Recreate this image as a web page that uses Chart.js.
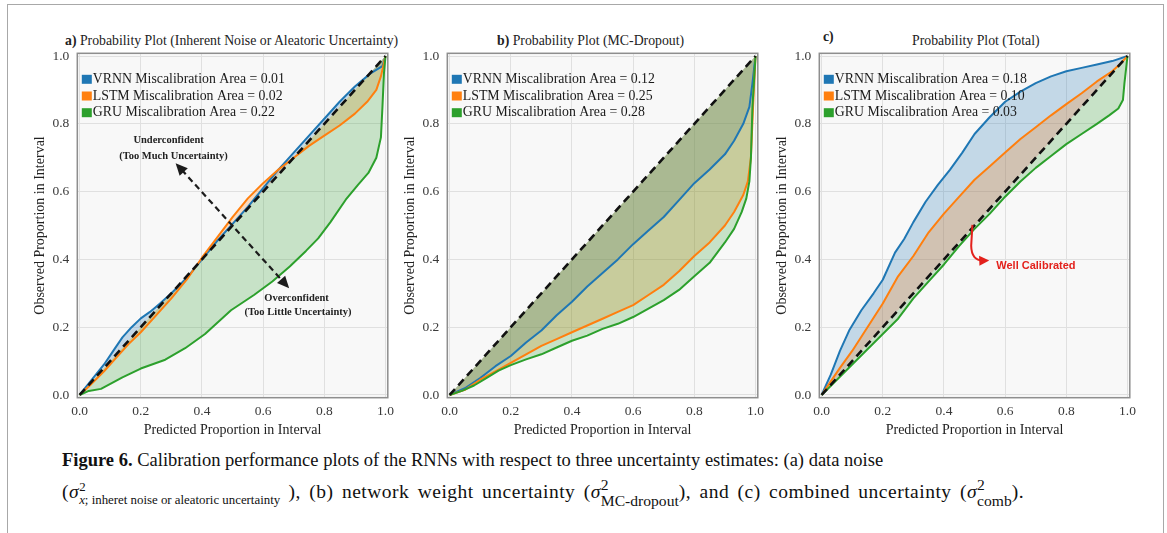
<!DOCTYPE html>
<html>
<head>
<meta charset="UTF-8" />
<title>Calibration performance plots</title>
<script src="https://cdn.jsdelivr.net/npm/chart.js"></script>
<style>
  body { margin: 0; background: #fff; width: 1167px; height: 533px; overflow: hidden; position: relative;
         font-family: 'Liberation Serif', 'DejaVu Serif', serif; color: #111; }
  #frame { position: absolute; left: 7px; top: 4px; width: 1155px; height: 560px; border: 1.5px solid #a8a8a8; border-bottom: none; }
  .panel { position: absolute; top: 0; width: 400px; height: 440px; }
  .ptitle { position: absolute; white-space: nowrap; font-size: 14.5px; line-height: 18px; color: #222;
            transform: scaleX(0.95); transform-origin: 0 0; }
  .caption { position: absolute; left: 62px; white-space: nowrap; font-size: 18.5px; line-height: 22px; color: #111; }
  .wide { font-size: 19.5px; letter-spacing: 0.5px; word-spacing: 3px; }
  .ss { display: inline-block; vertical-align: -0.5em; font-size: 0.8em; line-height: 1.0; letter-spacing: 0; word-spacing: 0; }
  .ss.small { font-size: 0.66em; }
  .ss span { display: block; }
</style>
</head>
<body>
<div id="frame"></div>

<div class="ptitle" style="left:65px; top:31px"><b>a)</b> Probability Plot (Inherent Noise or Aleatoric Uncertainty)</div>
<div class="ptitle" style="left:497px; top:31px"><b>b)</b> Probability Plot (MC-Dropout)</div>
<div class="ptitle" style="left:823px; top:27px"><b>c)</b></div>
<div class="ptitle" style="left:912px; top:31px">Probability Plot (Total)</div>

<div class="panel" style="left:0px"><canvas id="plotA"></canvas></div>
<div class="panel" style="left:370px"><canvas id="plotB"></canvas></div>
<div class="panel" style="left:742px"><canvas id="plotC"></canvas></div>

<div class="caption" style="top:449px"><b>Figure 6.</b> Calibration performance plots of the RNNs with respect to three uncertainty estimates: (a) data noise</div>
<div class="caption wide" style="top:477px">(<i>σ</i><span class="ss small"><span>2</span><span><i>x</i>; inheret noise or aleatoric uncertainty</span></span> ), (b) network weight uncertainty (<i>σ</i><span class="ss"><span>2</span><span>MC-dropout</span></span>), and (c) combined uncertainty (<i>σ</i><span class="ss"><span>2</span><span>comb</span></span>).</div>

<script>
  const modelNames = ['VRNN', 'LSTM', 'GRU'];
  const lineColors = ['#1f77b4', '#ff7f0e', '#2ca02c'];
  const fillColors = ['rgba(31,119,180,0.24)', 'rgba(255,127,14,0.24)', 'rgba(44,160,44,0.24)'];
  const tickValues = [0, 0.2, 0.4, 0.6, 0.8, 1.0];
  const idealX = [0, 1];
  const idealY = [0, 1];

  // a) inherent noise / aleatoric
  const aAreas = [0.01, 0.02, 0.22];
  const aVrnnX = [0, 0.04, 0.08, 0.11, 0.14, 0.17, 0.2, 0.23, 0.26, 0.3, 0.35, 0.4, 0.45, 0.5, 0.55, 0.6, 0.65, 0.7, 0.75, 0.8, 0.85, 0.9, 0.95, 0.975, 0.99, 1.0];
  const aVrnnY = [0, 0.045, 0.09, 0.13, 0.17, 0.2, 0.226, 0.245, 0.268, 0.3, 0.345, 0.4, 0.455, 0.505, 0.555, 0.61, 0.665, 0.715, 0.765, 0.815, 0.865, 0.91, 0.948, 0.962, 0.97, 1.0];
  const aLstmX = [0, 0.03, 0.08, 0.12, 0.16, 0.2, 0.25, 0.3, 0.35, 0.4, 0.45, 0.5, 0.55, 0.6, 0.65, 0.7, 0.75, 0.8, 0.85, 0.9, 0.94, 0.97, 0.985, 1.0];
  const aLstmY = [0, 0.025, 0.07, 0.11, 0.15, 0.185, 0.235, 0.285, 0.34, 0.405, 0.465, 0.525, 0.58, 0.625, 0.665, 0.7, 0.735, 0.765, 0.795, 0.83, 0.865, 0.9, 0.94, 1.0];
  const aGruX = [0, 0.03, 0.07, 0.14, 0.2, 0.28, 0.345, 0.41, 0.495, 0.57, 0.63, 0.687, 0.74, 0.78, 0.82, 0.87, 0.91, 0.944, 0.97, 0.985, 0.99, 0.995, 1.0];
  const aGruY = [0, 0.012, 0.018, 0.052, 0.078, 0.104, 0.138, 0.18, 0.25, 0.295, 0.335, 0.379, 0.425, 0.462, 0.51, 0.576, 0.62, 0.655, 0.7, 0.76, 0.85, 0.95, 1.0];

  // b) MC-dropout
  const bAreas = [0.12, 0.25, 0.28];
  const bVrnnX = [0, 0.05, 0.1, 0.15, 0.2, 0.25, 0.3, 0.35, 0.4, 0.45, 0.5, 0.55, 0.6, 0.65, 0.7, 0.75, 0.8, 0.85, 0.9, 0.93, 0.96, 0.98, 0.99, 1.0];
  const bVrnnY = [0, 0.02, 0.05, 0.085, 0.115, 0.155, 0.19, 0.235, 0.275, 0.32, 0.36, 0.4, 0.445, 0.485, 0.525, 0.575, 0.625, 0.665, 0.71, 0.75, 0.8, 0.85, 0.92, 1.0];
  const bLstmX = [0, 0.05, 0.1, 0.15, 0.2, 0.25, 0.3, 0.35, 0.4, 0.45, 0.5, 0.55, 0.6, 0.65, 0.7, 0.75, 0.8, 0.85, 0.9, 0.93, 0.96, 0.975, 0.985, 0.992, 1.0];
  const bLstmY = [0, 0.015, 0.045, 0.07, 0.095, 0.12, 0.145, 0.165, 0.185, 0.205, 0.225, 0.245, 0.265, 0.295, 0.325, 0.365, 0.41, 0.45, 0.5, 0.54, 0.59, 0.63, 0.7, 0.85, 1.0];
  const bGruX = [0, 0.04, 0.08, 0.12, 0.16, 0.2, 0.25, 0.3, 0.35, 0.4, 0.45, 0.5, 0.55, 0.6, 0.65, 0.7, 0.75, 0.8, 0.85, 0.9, 0.93, 0.955, 0.97, 0.98, 0.985, 0.99, 1.0];
  const bGruY = [0, 0.012, 0.028, 0.05, 0.072, 0.088, 0.105, 0.12, 0.14, 0.16, 0.175, 0.195, 0.21, 0.23, 0.255, 0.28, 0.31, 0.35, 0.39, 0.45, 0.49, 0.54, 0.58, 0.63, 0.7, 0.85, 1.0];

  // c) total
  const cAreas = [0.18, 0.10, 0.03];
  const cVrnnX = [0, 0.03, 0.06, 0.09, 0.13, 0.17, 0.2, 0.24, 0.27, 0.3, 0.34, 0.38, 0.42, 0.46, 0.5, 0.55, 0.6, 0.65, 0.7, 0.75, 0.8, 0.85, 0.9, 0.95, 1.0];
  const cVrnnY = [0, 0.06, 0.13, 0.19, 0.25, 0.3, 0.34, 0.42, 0.46, 0.51, 0.57, 0.62, 0.665, 0.715, 0.77, 0.82, 0.865, 0.895, 0.92, 0.94, 0.955, 0.965, 0.975, 0.985, 1.0];
  const cLstmX = [0, 0.03, 0.06, 0.1, 0.15, 0.2, 0.25, 0.3, 0.35, 0.4, 0.45, 0.5, 0.55, 0.6, 0.65, 0.7, 0.75, 0.8, 0.85, 0.9, 0.95, 0.98, 1.0];
  const cLstmY = [0, 0.04, 0.08, 0.13, 0.2, 0.27, 0.35, 0.41, 0.48, 0.535, 0.585, 0.635, 0.675, 0.715, 0.755, 0.79, 0.825, 0.858, 0.89, 0.925, 0.955, 0.98, 1.0];
  const cGruX = [0, 0.05, 0.1, 0.15, 0.2, 0.25, 0.3, 0.35, 0.4, 0.45, 0.5, 0.55, 0.6, 0.65, 0.7, 0.75, 0.8, 0.85, 0.9, 0.94, 0.97, 0.985, 0.99, 1.0];
  const cGruY = [0, 0.045, 0.09, 0.135, 0.18, 0.225, 0.285, 0.335, 0.385, 0.44, 0.49, 0.535, 0.585, 0.63, 0.67, 0.705, 0.74, 0.77, 0.8, 0.825, 0.845, 0.87, 0.92, 1.0];

  const serif = 'Liberation Serif';

  function pts(xs, ys) {
    return xs.map((x, i) => ({ x: x, y: ys[i] }));
  }

  // plot background and the box round it
  const plotFrame = {
    id: 'plotFrame',
    beforeDraw(chart) {
      const { ctx, chartArea: a } = chart;
      ctx.save();
      ctx.fillStyle = '#f8f8f8';
      ctx.fillRect(a.left, a.top, a.width, a.height);
      ctx.restore();
    },
    afterDraw(chart) {
      const { ctx, chartArea: a } = chart;
      ctx.save();
      ctx.strokeStyle = '#8e8e8e';
      ctx.lineWidth = 1.5;
      ctx.strokeRect(a.left, a.top, a.width, a.height);
      ctx.restore();
    }
  };

  // legend with the miscalibration areas, inside the plot
  const areaLegend = {
    id: 'areaLegend',
    afterDatasetsDraw(chart, args, opts) {
      const { ctx, chartArea: a } = chart;
      ctx.save();
      ctx.font = `13.8px "${serif}"`;
      ctx.textBaseline = 'middle';
      opts.areas.forEach((v, i) => {
        const y = a.top + 26 + i * 16.7;
        ctx.fillStyle = lineColors[i];
        ctx.fillRect(a.left + 4.5, y - 4.5, 10, 9);
        ctx.fillStyle = '#1a1a1a';
        ctx.fillText(`${modelNames[i]} Miscalibration Area = ${v.toFixed(2)}`, a.left + 15.5, y);
      });
      ctx.restore();
    }
  };

  function arrowHead(ctx, x1, y1, x2, y2, len, half) {
    const ang = Math.atan2(y2 - y1, x2 - x1);
    ctx.beginPath();
    ctx.moveTo(x2, y2);
    ctx.lineTo(x2 - len * Math.cos(ang) + half * Math.sin(ang), y2 - len * Math.sin(ang) - half * Math.cos(ang));
    ctx.lineTo(x2 - len * Math.cos(ang) - half * Math.sin(ang), y2 - len * Math.sin(ang) + half * Math.cos(ang));
    ctx.closePath();
    ctx.fill();
  }

  // text notes and arrows, placed in data units
  const notes = {
    id: 'notes',
    afterDatasetsDraw(chart, args, opts) {
      const { ctx } = chart;
      const sx = chart.scales.x, sy = chart.scales.y;
      const px = v => sx.getPixelForValue(v);
      const py = v => sy.getPixelForValue(v);
      ctx.save();
      (opts.texts || []).forEach(t => {
        ctx.font = t.font;
        ctx.fillStyle = t.color;
        ctx.textAlign = t.align || 'center';
        ctx.textBaseline = 'middle';
        ctx.fillText(t.text, px(t.x), py(t.y));
      });
      if (opts.twoWay) {
        const [x1, y1, x2, y2] = [px(opts.twoWay[0]), py(opts.twoWay[1]), px(opts.twoWay[2]), py(opts.twoWay[3])];
        const ang = Math.atan2(y2 - y1, x2 - x1);
        ctx.strokeStyle = '#1c1c1c';
        ctx.fillStyle = '#1c1c1c';
        ctx.lineWidth = 2.2;
        ctx.setLineDash([6, 4]);
        ctx.beginPath();
        ctx.moveTo(x1 + 9 * Math.cos(ang), y1 + 9 * Math.sin(ang));
        ctx.lineTo(x2 - 9 * Math.cos(ang), y2 - 9 * Math.sin(ang));
        ctx.stroke();
        ctx.setLineDash([]);
        arrowHead(ctx, x2, y2, x1, y1, 12, 5.5);
        arrowHead(ctx, x1, y1, x2, y2, 12, 5.5);
      }
      if (opts.bent) {
        const b = opts.bent;
        ctx.strokeStyle = '#e3211c';
        ctx.fillStyle = '#e3211c';
        ctx.lineWidth = 2;
        ctx.beginPath();
        ctx.moveTo(px(b[0]), py(b[1]));
        ctx.lineTo(px(b[2]), py(b[3]));
        ctx.quadraticCurveTo(px(b[4]), py(b[5]), px(b[6]), py(b[7]));
        ctx.stroke();
        arrowHead(ctx, px(b[4]), py(b[5]), px(b[8]), py(b[9]), 10, 5);
      }
      ctx.restore();
    }
  };

  function axes() {
    const tickFont = { family: serif, size: 13.5 };
    const titleFont = { family: serif, size: 14 };
    const setTicks = s => { s.ticks = tickValues.map(v => ({ value: v })); };
    return {
      x: {
        type: 'linear', min: -0.0075, max: 1.0075,
        afterBuildTicks: setTicks,
        afterFit: s => { s.height = 42.3; },
        grid: { color: '#e0e0e0', drawTicks: false },
        border: { display: false },
        ticks: { font: tickFont, color: '#3a3a3a', padding: 6, maxRotation: 0, callback: v => v.toFixed(1) },
        title: { display: true, text: 'Predicted Proportion in Interval', font: titleFont, color: '#222', padding: { top: 0, bottom: 1 } }
      },
      y: {
        type: 'linear', min: -0.008, max: 1.008,
        afterBuildTicks: setTicks,
        afterFit: s => { s.width = 77.3; },
        grid: { color: '#e0e0e0', drawTicks: false },
        border: { display: false },
        ticks: { font: tickFont, color: '#3a3a3a', padding: 8, callback: v => v.toFixed(1) },
        title: { display: true, text: 'Observed Proportion in Interval', font: titleFont, color: '#222', padding: { top: 32, bottom: 0 } }
      }
    };
  }

  function makePanel(id, series, areas, noteOpts) {
    // all bands are painted first (VRNN, LSTM, GRU), then the lines, dashed ideal line last
    const datasets = [{
      data: pts(idealX, idealY), borderColor: '#111', borderWidth: 2.6, borderDash: [8, 5],
      pointRadius: 0, fill: false, order: 0
    }];
    series.forEach((s, i) => datasets.push({
      data: pts(s[0], s[1]), borderColor: lineColors[i], backgroundColor: fillColors[i],
      borderWidth: 2, pointRadius: 0, fill: '0', order: 3 - i
    }));
    return new Chart(document.getElementById(id), {
      type: 'line',
      data: { datasets: datasets },
      options: {
        responsive: true,
        maintainAspectRatio: false,
        animation: false,
        events: [],
        layout: { padding: { top: 53.3, right: 7.3, left: 0, bottom: 0 } },
        elements: { line: { tension: 0, borderJoinStyle: 'round' } },
        scales: axes(),
        plugins: {
          legend: { display: false },
          tooltip: { enabled: false },
          filler: { drawTime: 'beforeDatasetsDraw' },
          areaLegend: { areas: areas },
          notes: noteOpts
        }
      },
      plugins: [plotFrame, areaLegend, notes]
    });
  }

  const noteFont = `bold 10.5px "${serif}"`;

  makePanel('plotA', [[aVrnnX, aVrnnY], [aLstmX, aLstmY], [aGruX, aGruY]], aAreas, {
    texts: [
      { text: 'Underconfident', x: 0.291, y: 0.751, font: noteFont, color: '#222' },
      { text: '(Too Much Uncertainty)', x: 0.307, y: 0.705, font: noteFont, color: '#222' },
      { text: 'Overconfident', x: 0.709, y: 0.286, font: noteFont, color: '#222' },
      { text: '(Too Little Uncertainty)', x: 0.714, y: 0.244, font: noteFont, color: '#222' }
    ],
    twoWay: [0.314, 0.684, 0.685, 0.315]
  });

  makePanel('plotB', [[bVrnnX, bVrnnY], [bLstmX, bLstmY], [bGruX, bGruY]], bAreas, {});

  makePanel('plotC', [[cVrnnX, cVrnnY], [cLstmX, cLstmY], [cGruX, cGruY]], cAreas, {
    texts: [
      { text: 'Well Calibrated', x: 0.571, y: 0.381, font: 'bold 11px "Liberation Sans"', color: '#e3211c', align: 'left' }
    ],
    bent: [0.493, 0.502, 0.489, 0.44, 0.49, 0.395, 0.53, 0.397, 0.548, 0.397]
  });
</script>
</body>
</html>
